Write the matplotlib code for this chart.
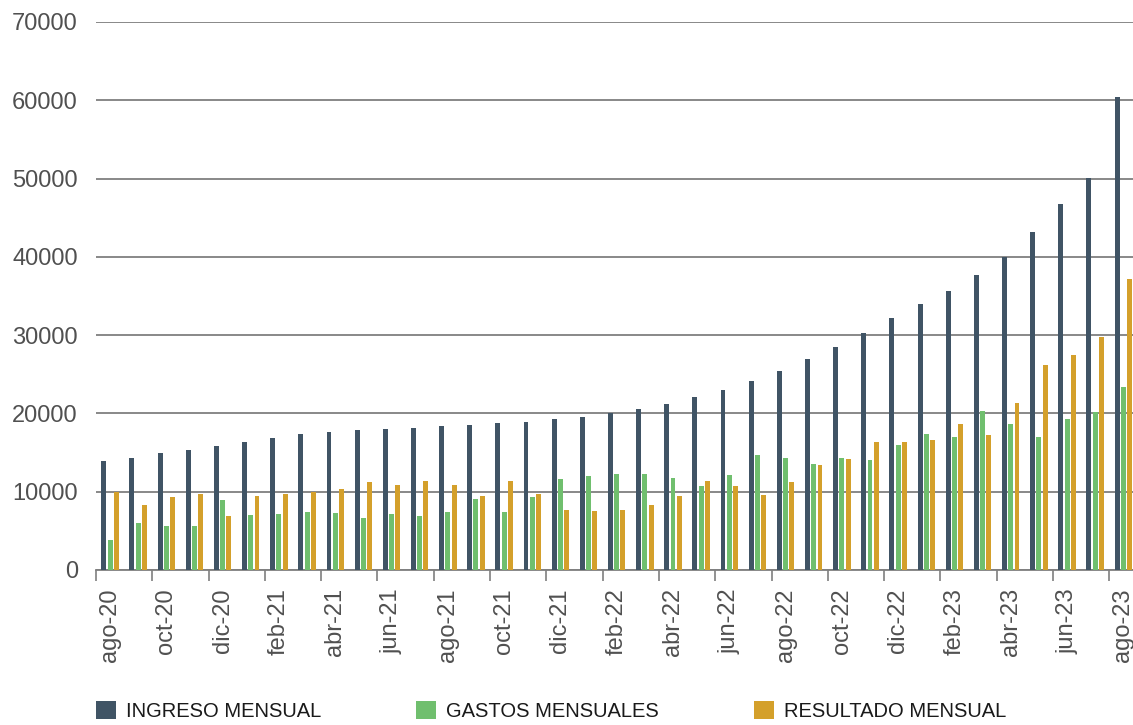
import matplotlib
matplotlib.use("Agg")
import matplotlib.pyplot as plt
import numpy as np

plt.rcParams['font.family'] = ['Liberation Sans', 'DejaVu Sans']

# meses de ago-20 a ago-23
meses = ['ago', 'sep', 'oct', 'nov', 'dic', 'ene', 'feb', 'mar', 'abr', 'may', 'jun', 'jul']
periodos = []
anio = 20
for i in range(37):
    m = meses[i % 12]
    if m == 'ene':
        anio += 1
    periodos.append(f'{m}-{anio}')

ingreso = [13900, 14260, 14900, 15290, 15790, 16390, 16860, 17330, 17670, 17840,
           18010, 18180, 18350, 18560, 18770, 18900, 19250, 19580, 20010, 20560,
           21240, 22100, 22950, 24180, 25450, 26950, 28520, 30230, 32140, 33930,
           35630, 37640, 39950, 43230, 46700, 50100, 60400]
gastos = [3830, 5960, 5620, 5660, 8980, 6980, 7110, 7410, 7280, 6640,
          7150, 6940, 7410, 9070, 7410, 9320, 11580, 12010, 12300, 12220,
          11750, 10690, 12130, 14650, 14300, 13580, 14350, 14010, 15960, 17330,
          16950, 20350, 18690, 16990, 19250, 20220, 23330]
resultado = [10000, 8300, 9320, 9670, 6860, 9450, 9750, 9960, 10390, 11240,
             10860, 11320, 10860, 9490, 11320, 9670, 7700, 7540, 7700, 8340,
             9450, 11320, 10770, 9620, 11200, 13370, 14180, 16310, 16310, 16640,
             18690, 17240, 21370, 26180, 27460, 29760, 37130]

series = ['INGRESO MENSUAL', 'GASTOS MENSUALES', 'RESULTADO MENSUAL']
colores = ['#405465', '#70bf6e', '#d4a02b']

fig = plt.figure(figsize=(11.33, 7.25), dpi=100)
ax = fig.add_axes([0.0847, 0.2138, 0.9192, 0.7559])

x = np.arange(len(periodos))
ancho = 0.175
paso = 0.222
for k, (vals, nombre, c) in enumerate(zip([ingreso, gastos, resultado], series, colores)):
    ax.bar(x + (k - 1) * paso, vals, ancho, color=c, label=nombre, zorder=3)

ax.set_xlim(-0.5, len(periodos) - 0.5)
ax.set_ylim(0, 70000)
ax.set_yticks(range(0, 70001, 10000))
ax.yaxis.grid(True, color='#7f7f7f', linewidth=1.3, zorder=0)
ax.tick_params(axis='y', length=0, pad=13, labelsize=17, labelcolor='#505050')

# marcas en los límites de cada bimestre, etiquetas centradas en el mes
ax.set_xticks(np.arange(-0.5, len(periodos) - 1, 2))
ax.set_xticklabels([])
ax.tick_params(axis='x', which='major', length=8, width=1.2, color='#7f7f7f')
ax.set_xticks(x[::2], minor=True)
ax.set_xticklabels(periodos[::2], minor=True, rotation=90)
ax.tick_params(axis='x', which='minor', length=0, pad=13, labelsize=17, labelcolor='#505050')

for lado in ['top', 'right', 'left']:
    ax.spines[lado].set_visible(False)
ax.spines['bottom'].set_color('#7f7f7f')
ax.spines['bottom'].set_linewidth(1.3)

fig.legend(loc='lower left', bbox_to_anchor=(0.0847, 0.005), ncol=3, frameon=False,
           fontsize=14.5, handlelength=1.0, handleheight=1.0, handletextpad=0.5,
           columnspacing=4.7, borderpad=0, borderaxespad=0, labelcolor='#1a1a1a')

fig.savefig('out.png', dpi=100, facecolor='white')
